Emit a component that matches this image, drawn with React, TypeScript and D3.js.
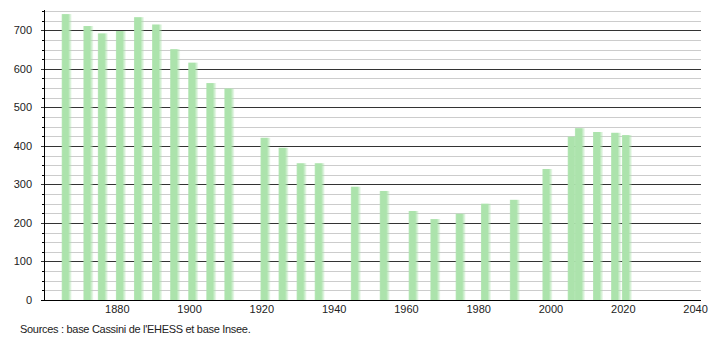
import React from "react";
import * as d3 from "d3";

const years = [1866, 1872, 1876, 1881, 1886, 1891, 1896, 1901, 1906, 1911, 1921, 1926, 1931, 1936, 1946, 1954, 1962, 1968, 1975, 1982, 1990, 1999, 2006, 2008, 2013, 2018, 2021];
const population = [742, 711, 692, 698, 734, 715, 651, 616, 563, 549, 421, 395, 355, 355, 294, 283, 231, 210, 224, 250, 260, 340, 424, 446, 436, 434, 428];
const yTicks = [0, 100, 200, 300, 400, 500, 600, 700];
const xTicks = [1880, 1900, 1920, 1940, 1960, 1980, 2000, 2020, 2040];
const sourceText = "Sources : base Cassini de l'EHESS et base Insee.";

const W = 710;
const H = 340;

export default function App() {
  const x = d3.scaleLinear().domain([1860, 2041.5]).range([45, 701]);
  const y = d3.scaleLinear().domain([0, 750]).range([300, 11]);
  const minor = d3.range(25, 751, 25).filter((v) => v % 100 !== 0);
  const barW = 10;
  const font = "'Liberation Sans', Arial, sans-serif";
  return (
    <svg width={W} height={H} style={{ position: "absolute", left: 0, top: 0, background: "#fff" }} fontFamily={font}>
      <defs>
        <linearGradient id="barGrad" x1="0" x2="1" y1="0" y2="0">
          <stop offset="0" stopColor="#ace3ac" stopOpacity={0.8} />
          <stop offset="0.12" stopColor="#ace3ac" stopOpacity={1} />
          <stop offset="0.65" stopColor="#ace3ac" stopOpacity={1} />
          <stop offset="1" stopColor="#ace3ac" stopOpacity={0.15} />
        </linearGradient>
      </defs>
      {minor.map((v) => (
        <g key={"m" + v}>
          <line x1={x.range()[0]} x2={x.range()[1]} y1={Math.round(y(v)) + 0.5} y2={Math.round(y(v)) + 0.5} stroke="#cccccc" strokeWidth={1} />
          <line x1={x.range()[0] - 3} x2={x.range()[0]} y1={Math.round(y(v)) + 0.5} y2={Math.round(y(v)) + 0.5} stroke="#000" strokeWidth={1} />
        </g>
      ))}
      {yTicks.filter((v) => v > 0).map((v) => (
        <line key={"g" + v} x1={x.range()[0] - 4} x2={x.range()[1]} y1={Math.round(y(v)) + 0.5} y2={Math.round(y(v)) + 0.5} stroke="#333" strokeWidth={1} />
      ))}
      {years.map((yr, i) => (
        <rect key={yr} x={x(yr) - barW / 2} y={y(population[i])} width={barW} height={y(0) - y(population[i])} fill="url(#barGrad)" />
      ))}
      <line x1={x.range()[0] - 0.5} x2={x.range()[0] - 0.5} y1={10} y2={300} stroke="#000" strokeWidth={1} />
      <line x1={x.range()[0] - 4} x2={x.range()[1]} y1={300.5} y2={300.5} stroke="#000" strokeWidth={1} />
      {yTicks.map((v) => (
        <text key={"yl" + v} x={32} y={y(v) + 4} textAnchor="end" fontSize={11} fill="#222">{v}</text>
      ))}
      {xTicks.map((v) => (
        <text key={"xl" + v} x={x(v)} y={313} textAnchor="middle" fontSize={11} fill="#222">{v}</text>
      ))}
      <text x={20} y={333} fontSize={11} letterSpacing={-0.3} fill="#222">{sourceText}</text>
    </svg>
  );
}
